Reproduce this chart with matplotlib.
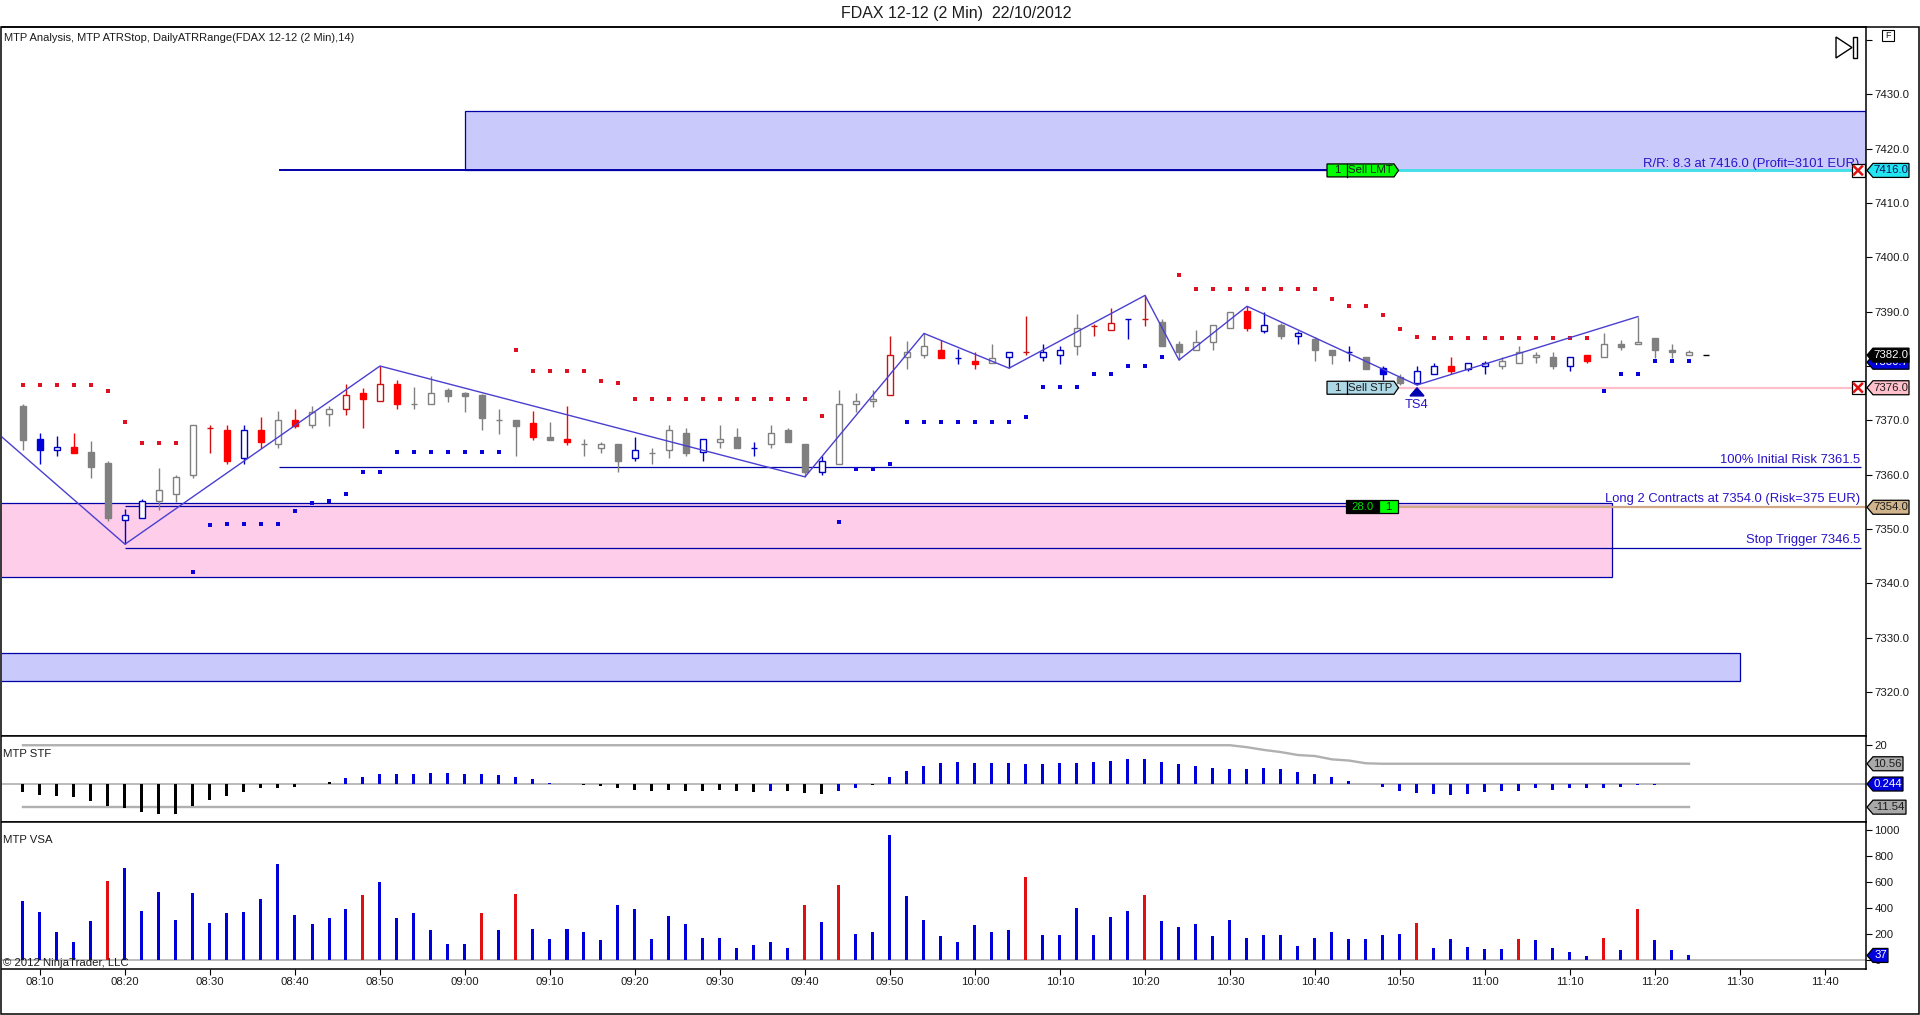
import matplotlib
matplotlib.use('Agg')
import matplotlib.pyplot as plt
from matplotlib.patches import Polygon, Rectangle

plt.rcParams['font.family'] = ['Liberation Sans', 'DejaVu Sans']

W, H = 1920, 1015

# candles, one entry per 2 min bar starting 08:08
# colour code: G/R/B filled, g/r/b hollow, k dash
bar_col = ("GBbRGGbbgg" "grRbRgRggr" "RrRggGGGgG"
           "RGRggGbggG" "bgGbgGGbgg" "grggRbRgbr"
           "bbgrrbrGGg" "ggRbGbGGbG" "BGbbRbbggg"
           "GbRgGgGGgk")

bar_high = [7373.1, 7367.6, 7367.1, 7367.6, 7366.2, 7362.6, 7353.7, 7355.6, 7361.2, 7360.0,
            7369.1, 7369.1, 7369.1, 7369.1, 7370.6, 7371.8, 7372.0, 7372.6, 7372.6, 7376.6,
            7376.0, 7380.0, 7377.5, 7376.2, 7378.1, 7376.0, 7375.3, 7374.8, 7372.0, 7370.0,
            7371.7, 7369.7, 7372.6, 7366.5, 7366.1, 7365.6, 7367.0, 7365.0, 7369.1, 7368.5,
            7366.5, 7369.1, 7368.5, 7366.1, 7369.1, 7368.5, 7365.6, 7363.5, 7375.5, 7375.1,
            7375.5, 7385.6, 7384.6, 7386.0, 7384.7, 7383.1, 7382.5, 7384.0, 7382.5, 7389.2,
            7384.0, 7383.6, 7389.6, 7387.7, 7390.6, 7388.6, 7393.0, 7388.6, 7384.6, 7386.6,
            7387.5, 7390.0, 7391.0, 7390.0, 7388.0, 7386.5, 7385.3, 7383.0, 7383.7, 7381.6,
            7380.0, 7378.5, 7380.0, 7380.5, 7381.6, 7380.5, 7381.0, 7381.6, 7383.6, 7382.6,
            7382.6, 7381.6, 7382.1, 7386.0, 7384.7, 7389.1, 7385.1, 7384.0, 7383.0, 7382.0]
bar_top = [7372.6, 7366.6, 7365.1, 7365.1, 7364.2, 7362.1, 7352.5, 7355.1, 7357.1, 7359.5,
           7369.1, 7368.6, 7368.2, 7368.2, 7368.2, 7370.0, 7370.0, 7371.6, 7372.0, 7374.6,
           7375.1, 7376.6, 7376.6, 7373.0, 7375.1, 7375.5, 7375.1, 7374.6, 7370.0, 7370.0,
           7369.6, 7367.0, 7366.5, 7365.6, 7365.6, 7365.6, 7364.6, 7364.0, 7368.2, 7367.6,
           7366.5, 7366.5, 7367.0, 7365.0, 7367.6, 7368.2, 7365.6, 7362.6, 7373.1, 7373.5,
           7374.0, 7382.1, 7382.5, 7383.6, 7383.0, 7381.5, 7381.0, 7381.5, 7382.5, 7382.5,
           7382.5, 7383.0, 7387.0, 7387.3, 7388.0, 7388.6, 7388.6, 7388.1, 7384.0, 7384.5,
           7387.5, 7390.0, 7390.1, 7387.5, 7387.5, 7386.0, 7385.0, 7383.0, 7382.5, 7381.6,
           7379.6, 7378.0, 7379.0, 7380.0, 7380.0, 7380.5, 7380.5, 7381.0, 7382.5, 7382.1,
           7381.6, 7381.6, 7382.1, 7384.0, 7384.0, 7384.5, 7385.1, 7383.0, 7382.5, 7382.0]
bar_bot = [7366.4, 7364.6, 7364.6, 7364.0, 7361.5, 7352.1, 7351.6, 7352.1, 7355.1, 7356.5,
           7360.0, 7368.6, 7362.6, 7363.0, 7366.1, 7365.6, 7369.0, 7369.1, 7371.1, 7372.0,
           7374.0, 7373.5, 7373.0, 7373.0, 7373.0, 7374.5, 7374.5, 7370.5, 7370.0, 7369.0,
           7367.0, 7366.4, 7366.1, 7365.6, 7365.0, 7362.6, 7363.0, 7364.0, 7364.6, 7364.0,
           7364.1, 7366.1, 7365.0, 7365.0, 7365.6, 7366.1, 7360.5, 7360.5, 7362.0, 7373.1,
           7373.5, 7374.6, 7381.6, 7382.1, 7381.5, 7381.5, 7380.4, 7380.5, 7381.6, 7382.5,
           7381.6, 7382.1, 7383.6, 7387.3, 7386.6, 7388.6, 7388.6, 7383.6, 7382.5, 7383.0,
           7384.5, 7387.0, 7387.0, 7386.5, 7385.5, 7385.6, 7383.0, 7382.0, 7382.5, 7379.5,
           7378.6, 7376.9, 7376.9, 7378.6, 7379.0, 7379.5, 7380.0, 7380.0, 7380.5, 7381.6,
           7380.0, 7380.0, 7380.9, 7381.6, 7383.5, 7384.0, 7383.0, 7382.5, 7382.1, 7382.0]
bar_low = [7364.5, 7362.0, 7363.4, 7364.0, 7359.3, 7351.5, 7347.2, 7352.1, 7353.5, 7355.0,
           7359.4, 7364.0, 7362.0, 7362.0, 7365.0, 7365.0, 7368.5, 7368.5, 7369.0, 7371.0,
           7368.5, 7373.5, 7372.0, 7372.0, 7373.0, 7373.4, 7371.6, 7368.3, 7367.5, 7363.5,
           7366.4, 7366.4, 7365.5, 7363.5, 7363.9, 7360.5, 7362.6, 7362.0, 7363.0, 7363.5,
           7362.6, 7365.0, 7365.0, 7363.5, 7365.0, 7366.1, 7359.6, 7360.0, 7362.0, 7371.6,
           7372.5, 7374.6, 7379.4, 7381.5, 7381.5, 7380.4, 7379.5, 7380.5, 7379.6, 7382.1,
           7381.0, 7380.4, 7382.0, 7385.5, 7386.6, 7385.0, 7387.4, 7383.6, 7381.1, 7383.0,
           7383.0, 7387.0, 7386.5, 7386.0, 7385.0, 7384.0, 7380.9, 7380.4, 7381.0, 7379.5,
           7377.4, 7376.5, 7376.5, 7378.6, 7378.5, 7379.0, 7378.6, 7379.5, 7380.5, 7380.5,
           7379.4, 7379.0, 7380.5, 7381.6, 7383.0, 7384.0, 7381.4, 7381.4, 7382.1, 7382.0]

# ATR stop dots (bar, price)
stop_red_bars = [0, 1, 2, 3, 4, 5, 6, 7, 8, 9, 29, 30, 31, 32, 33, 34, 35,
                 36, 37, 38, 39, 40, 41, 42, 43, 44, 45, 46, 47,
                 68, 69, 70, 71, 72, 73, 74, 75, 76, 77, 78, 79, 80, 81, 82,
                 83, 84, 85, 86, 87, 88, 89, 90, 91, 92]
stop_red = [7376.5, 7376.5, 7376.5, 7376.5, 7376.5, 7375.4, 7369.7, 7365.8, 7365.8, 7365.8,
            7383.0, 7379.1, 7379.1, 7379.1, 7379.1, 7377.2, 7376.9,
            7373.9, 7373.9, 7373.9, 7373.9, 7373.9, 7373.9, 7373.9, 7373.9, 7373.9, 7373.9, 7373.9, 7370.8,
            7396.8, 7394.2, 7394.2, 7394.2, 7394.2, 7394.2, 7394.2, 7394.2, 7394.2, 7392.3, 7391.0, 7391.0,
            7389.4, 7386.8, 7385.3,
            7385.2, 7385.2, 7385.2, 7385.2, 7385.2, 7385.2, 7385.2, 7385.2, 7385.2, 7385.2]
stop_blue_bars = [10, 11, 12, 13, 14, 15, 16, 17, 18, 19, 20, 21, 22, 23, 24, 25, 26, 27, 28,
                  48, 49, 50, 51, 52, 53, 54, 55, 56, 57, 58, 59, 60, 61, 62, 63, 64, 65, 66, 67,
                  93, 94, 95, 96, 97, 98]
stop_blue = [7342.0, 7350.8, 7350.9, 7350.9, 7350.9, 7350.9, 7353.3, 7354.8, 7355.1, 7356.5,
             7360.5, 7360.5, 7364.2, 7364.2, 7364.2, 7364.2, 7364.2, 7364.2, 7364.2,
             7351.3, 7361.1, 7361.1, 7362.0, 7369.7, 7369.7, 7369.7, 7369.7, 7369.7, 7369.7, 7369.7,
             7370.6, 7376.1, 7376.1, 7376.1, 7378.5, 7378.5, 7380.0, 7380.0, 7381.7,
             7375.4, 7378.5, 7378.5, 7380.9, 7380.9, 7380.9]

zig_bars = [-2, 6, 21, 46, 53, 58, 66, 68, 72, 82, 95]
zig_price = [7369.0, 7347.2, 7380.0, 7359.6, 7386.0, 7379.6, 7393.0, 7381.1, 7391.0, 7376.5, 7389.1]

stf = [-3.6, -5.6, -6.1, -6.6, -8.2, -10.7, -12.2, -13.8, -14.8, -14.8, -11.2, -7.7, -6.1, -3.6, -2.0, -2.0, -1.5,
       0.5, 1.5, 3.1, 3.6, 5.1, 5.6, 5.6, 6.1, 6.1, 5.6, 5.1, 4.6, 3.6, 2.6, 1.0, 0.1, -0.5, -1.0, -2.0, -2.6,
       -3.1, -2.6, -3.1, -3.1, -2.6, -3.1, -3.6, -3.1, -3.1, -4.1, -4.6, -3.1, -2.0, -0.5,
       3.6, 7.1, 9.2, 10.7, 11.7, 11.2, 10.7, 10.7, 10.2, 10.2, 10.7, 11.2, 11.7, 12.2, 12.8, 12.8, 11.7, 10.2,
       9.2, 8.2, 7.7, 7.7, 8.2, 7.7, 6.6, 5.1, 3.6, 2.0, 0.5,
       -1.5, -3.1, -4.1, -4.6, -5.1, -4.6, -3.6, -3.1, -3.1, -2.0, -2.6, -2.0, -2.0, -2.0, -1.5, -0.5, -0.5]
stf_black = list(range(0, 19)) + list(range(32, 44)) + [45, 46, 47, 50, 79]
stf_upper = [20] * 72 + [19.0, 17.6, 16.5, 15.0, 14.5, 12.8, 12.2, 10.8] + [10.56] * 19
stf_lower = [-11.54] * 99

volume = [452, 368, 215, 138, 299, 605, 705, 375, 521, 306, 513, 283, 360, 368, 467, 735, 345, 276, 322, 391,
          498, 598, 322, 360, 230, 123, 123, 360, 230, 506, 238, 161, 238, 215, 153, 421, 391, 161, 337, 276,
          169, 169, 92, 115, 138, 92, 421, 291, 575, 199, 215, 958, 490, 306, 184, 138, 268, 215, 230, 636,
          192, 192, 398, 192, 329, 375, 498, 299, 253, 276, 184, 306, 169, 192, 192, 107, 169, 215, 161, 161,
          192, 199, 283, 92, 161, 100, 84, 84, 161, 153, 92, 61, 31, 169, 77, 391, 153, 77, 37]
volume_red = [5, 20, 27, 29, 46, 48, 59, 66, 82, 88, 93, 95]

time_labels = ['08:10', '08:20', '08:30', '08:40', '08:50', '09:00', '09:10', '09:20', '09:30', '09:40', '09:50',
               '10:00', '10:10', '10:20', '10:30', '10:40', '10:50', '11:00', '11:10', '11:20', '11:30', '11:40']
time_ticks = list(range(1, 107, 5))

price_ticks = [7320, 7330, 7340, 7350, 7360, 7370, 7380, 7390, 7400, 7410, 7420, 7430, 7440]
vsa_ticks = [0, 200, 400, 600, 800, 1000]

NAVY = '#0000a8'
BLUE = '#0000dd'
GREY = '#808080'
RED = '#ff0000'
ZONE_BLUE = '#c9c9fb'
ZONE_PINK = '#fdcdea'
TEXT = '#1c1c1c'
LABEL_BLUE = '#2a14c8'
colours = {'g': GREY, 'r': '#cc1111', 'b': '#0000c0', 'k': 'black'}
fill_colours = {'G': GREY, 'R': RED, 'B': BLUE}

fig = plt.figure(figsize=(W / 100, H / 100), dpi=100, facecolor='white')


def pane(y0, y1, x0=1.5, x1=1866.5):
    return fig.add_axes([x0 / W, 1 - y1 / H, (x1 - x0) / W, (y1 - y0) / H])


def bar_x(px):
    return (px - 23) / 17


ax = pane(27, 736)
ax_stf = pane(736, 822)
ax_vsa = pane(822, 969)

for a in (ax, ax_stf, ax_vsa):
    a.set_xlim(bar_x(1.5), bar_x(1866.5))
    a.yaxis.tick_right()
    a.tick_params(axis='y', length=4.3, width=0.8, labelsize=8.2, pad=1.5, labelcolor=TEXT)
    for s in a.spines.values():
        s.set_linewidth(1.1)
    a.spines['left'].set_visible(False)
    a.set_xticks([])

ax.set_ylim(7311.9, 7442.4)
ax.set_yticks(price_ticks)
ax.set_yticklabels(['' if p in (7380, 7440) else '%.1f' % p for p in price_ticks])

ax_stf.set_ylim(-19.1, 24.7)
ax_stf.set_yticks([20])
ax_stf.set_yticklabels(['20'])

ax_vsa.set_ylim(-67, 1060)
ax_vsa.set_yticks(vsa_ticks)
ax_vsa.set_yticklabels(['0', '200', '400', '600', '800', '1000'])
ax_vsa.set_xticks(time_ticks)
ax_vsa.set_xticklabels(time_labels)
ax_vsa.tick_params(axis='x', length=4.3, width=0.8, labelsize=8.2, pad=1.5, labelcolor=TEXT)

# zones
ax.add_patch(Rectangle((bar_x(465), 7416.0), bar_x(1866) - bar_x(465), 11.0, fc=ZONE_BLUE, ec=NAVY, lw=0.9, zorder=1))
ax.add_patch(Rectangle((bar_x(-5), 7341.1), bar_x(1612.5) - bar_x(-5), 13.6, fc=ZONE_PINK, ec=NAVY, lw=0.9, zorder=1))
ax.add_patch(Rectangle((bar_x(-5), 7322.1), bar_x(1740) - bar_x(-5), 5.0, fc=ZONE_BLUE, ec=NAVY, lw=0.9, zorder=1))

# risk lines
ax.hlines(7416.0, bar_x(279), bar_x(1330), color=NAVY, lw=1.4, zorder=2)
ax.hlines(7416.0, bar_x(1398), bar_x(1852), color='#40e0e8', lw=2, zorder=2)
ax.hlines(7376.0, bar_x(1398), bar_x(1852), color='#ffc0cb', lw=1.6, zorder=2)
ax.hlines(7361.5, bar_x(279), bar_x(1861), color=NAVY, lw=0.9, zorder=2)
ax.hlines(7346.5, bar_x(125), bar_x(1861), color=NAVY, lw=0.9, zorder=2)
ax.hlines(7354.2, bar_x(125), bar_x(1612), color=NAVY, lw=0.9, zorder=2)
ax.hlines(7354.0, bar_x(1398), bar_x(1866), color='#d2a987', lw=1.6, zorder=2)

# candles
for i in range(len(bar_high)):
    c = bar_col[i]
    filled = c in fill_colours
    col = fill_colours[c] if filled else colours[c]
    ax.vlines(i, bar_low[i], bar_high[i], color=col, lw=1.0, zorder=3)
    ax.bar(i, bar_top[i] - bar_bot[i], bottom=bar_bot[i], width=0.36, zorder=4,
           facecolor=col if filled else 'white', edgecolor=col, linewidth=1.0)

ax.plot(stop_red_bars, stop_red, ls='', marker='s', ms=3.3, mew=0, color='#dd1122', zorder=5)
ax.plot(stop_blue_bars, stop_blue, ls='', marker='s', ms=3.3, mew=0, color='#0a00dd', zorder=5)
ax.plot(zig_bars, zig_price, color='#4a3fd0', lw=1.0, zorder=6)

# trade signal marker
ax.fill([81.59, 82.41, 82], [7374.5, 7374.5, 7376.0], color='#0000b0', zorder=7)
ax.text(82, 7372.8, 'TS4', ha='center', va='center', fontsize=9.3, color=LABEL_BLUE, zorder=7)

ax.text(bar_x(1859), 7417.2, 'R/R: 8.3 at 7416.0 (Profit=3101 EUR)', ha='right', va='center',
        fontsize=9.4, color=LABEL_BLUE, zorder=7)
ax.text(bar_x(1860), 7355.5, 'Long 2 Contracts at 7354.0 (Risk=375 EUR)', ha='right', va='center',
        fontsize=9.4, color=LABEL_BLUE, zorder=7)
ax.text(bar_x(1860), 7362.7, '100% Initial Risk 7361.5', ha='right', va='center', fontsize=9.4, color=LABEL_BLUE, zorder=7)
ax.text(bar_x(1860), 7347.9, 'Stop Trigger 7346.5', ha='right', va='center', fontsize=9.4, color=LABEL_BLUE, zorder=7)

# indicators
for i, v in enumerate(stf):
    ax_stf.bar(i, v, width=3 / 17, color='black' if i in stf_black else BLUE, zorder=3)
ax_stf.axhline(0.244, color='#a8a8a8', lw=1.1, zorder=2)
ax_stf.plot(range(len(stf_upper)), stf_upper, color='#b0b0b0', lw=1.7, zorder=2)
ax_stf.plot(range(len(stf_lower)), stf_lower, color='#b0b0b0', lw=1.7, zorder=2)

for i, v in enumerate(volume):
    ax_vsa.bar(i, v, width=3 / 17, color='#e01010' if i in volume_red else BLUE, zorder=3)
ax_vsa.axhline(0, color='#a8a8a8', lw=1.1, zorder=2)

ax.text(2 / 1865, 0.9845, 'MTP Analysis, MTP ATRStop, DailyATRRange(FDAX 12-12 (2 Min),14)', transform=ax.transAxes,
        ha='left', va='center', fontsize=8.05, color=TEXT)
ax_stf.text(0.001, 0.79, 'MTP STF', transform=ax_stf.transAxes, ha='left', va='center', fontsize=8.2, color=TEXT)
ax_vsa.text(0.001, 0.875, 'MTP VSA', transform=ax_vsa.transAxes, ha='left', va='center', fontsize=8.2, color=TEXT)
ax_vsa.text(0.001, 0.04, '\u00a9 2012 NinjaTrader, LLC', transform=ax_vsa.transAxes, ha='left', va='center',
            fontsize=8.2, color=TEXT, zorder=8)

# pixel overlay for the platform widgets
ov = fig.add_axes([0, 0, 1, 1], facecolor='none')
ov.set_xlim(0, W)
ov.set_ylim(H, 0)
ov.axis('off')


def tag(a, value, text, fc, tc=TEXT, x1=1909, size=8.2, z=10):
    y = H - a.transData.transform((0, value))[1]
    ov.add_patch(Polygon([(1867, y), (1873, y - 7), (x1, y - 7), (x1, y + 7), (1873, y + 7)],
                         closed=True, fc=fc, ec='black', lw=0.9, zorder=z))
    ov.text(x1 - 1, y, text, ha='right', va='center', fontsize=size, color=tc, zorder=z)


def close_x(y):
    ov.add_patch(Rectangle((1851.5, y - 6.5), 13, 13, fc='white', ec='black', lw=0.9, zorder=10))
    ov.plot([1854, 1862], [y - 4, y + 4], color='#e01010', lw=1.8, zorder=11)
    ov.plot([1854, 1862], [y + 4, y - 4], color='#e01010', lw=1.8, zorder=11)


def order_label(y, qty, text, fc):
    ov.add_patch(Polygon([(1327, y - 6.5), (1394, y - 6.5), (1398.5, y), (1394, y + 6.5), (1327, y + 6.5)],
                         closed=True, fc=fc, ec='black', lw=0.9, zorder=10))
    ov.plot([1346.5, 1346.5], [y - 6.5, y + 6.5], color='black', lw=0.9, zorder=11)
    ov.text(1337, y, qty, ha='center', va='center', fontsize=8.2, color=TEXT, zorder=11)
    ov.text(1348, y, text, ha='left', va='center', fontsize=8.2, color=TEXT, zorder=11)


def py(v):
    return H - ax.transData.transform((0, v))[1]


order_label(py(7416.0), '1', 'Sell LMT', '#00ff00')
order_label(py(7376.0), '1', 'Sell STP', '#add8e6')
close_x(py(7416.0))
close_x(py(7376.0))

# position label
ov.add_patch(Rectangle((1345.5, 500), 33.5, 13, fc='black', ec='black', lw=0.9, zorder=10))
ov.add_patch(Rectangle((1379, 500), 19, 13, fc='#00ff00', ec='black', lw=0.9, zorder=10))
ov.text(1362, 506.5, '28.0', ha='center', va='center', fontsize=8.2, color='#00e000', zorder=11)
ov.text(1388.5, 506.5, '1', ha='center', va='center', fontsize=8.2, color=TEXT, zorder=11)

tag(ax, 7416.0, '7416.0', '#22e6f0', tc='#101060')
tag(ax, 7376.0, '7376.0', '#ffc0cb')
tag(ax, 7354.0, '7354.0', '#d2b48c')
tag(ax, 7380.7, '7380.7', '#0000dd', tc='white', z=10)
tag(ax, 7382.0, '7382.0', 'black', tc='white', z=12)
tag(ax_stf, 10.56, '10.56', '#a9a9a9', x1=1903)
tag(ax_stf, 0.244, '0.244', '#0000dd', tc='white', x1=1903)
tag(ax_stf, -11.54, '-11.54', '#a9a9a9', x1=1906)
tag(ax_vsa, 37, '37', '#0000dd', tc='white', x1=1888)

# F button and end-of-data arrow
ov.add_patch(Rectangle((1882, 30), 12, 11, fc='white', ec='black', lw=0.8, zorder=10))
ov.text(1888, 35.5, 'F', ha='center', va='center', fontsize=6.5, color=TEXT, zorder=11)
ov.add_patch(Polygon([(1836, 37), (1852, 47.5), (1836, 58)], closed=True, fc='white', ec='black', lw=1, zorder=10))
ov.add_patch(Rectangle((1853, 37), 4, 21, fc='white', ec='black', lw=1, zorder=10))

# outer frame
ov.add_patch(Rectangle((1, 27), 1918, 987, fc='none', ec='black', lw=1.1, zorder=12))

ov.text(956, 13, 'FDAX 12-12 (2 Min)  22/10/2012', ha='center', va='center', fontsize=11.5, color=TEXT)

fig.savefig('out.png', dpi=100)
